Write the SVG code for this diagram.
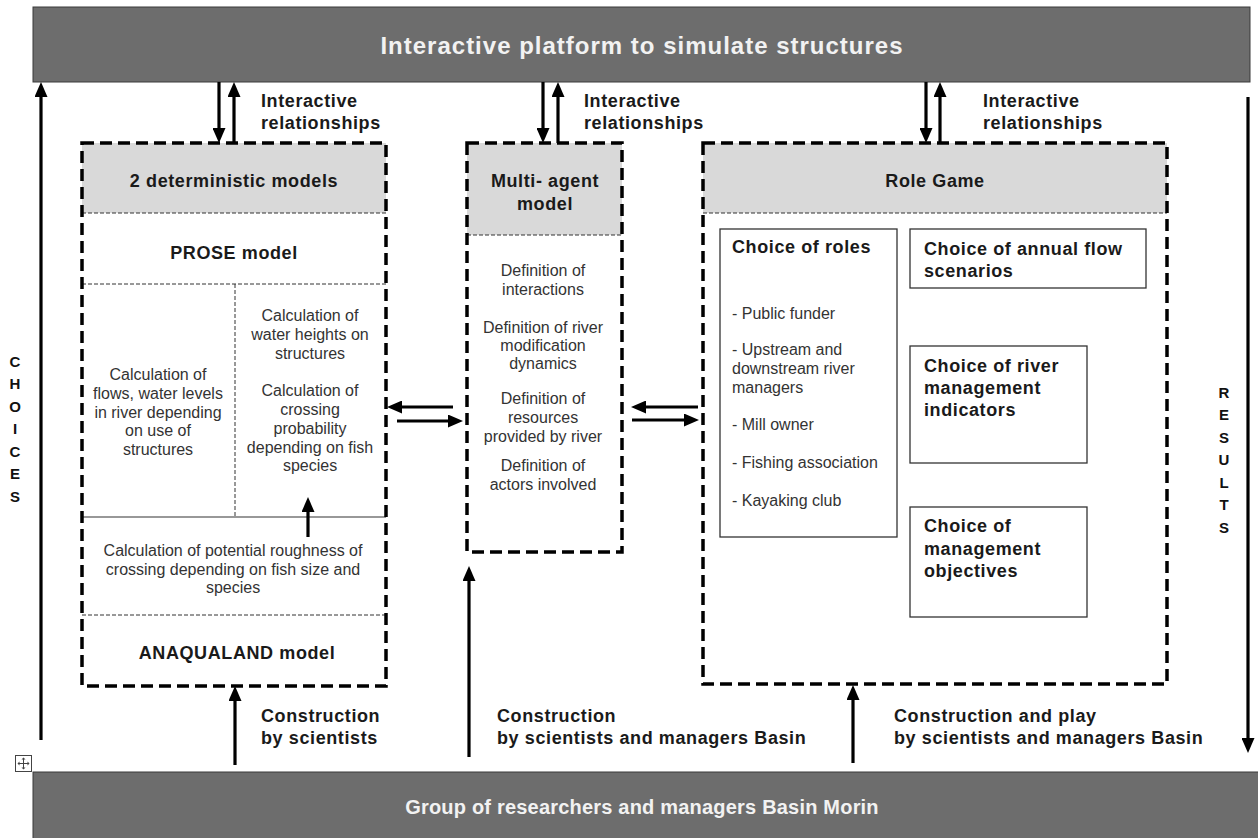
<svg xmlns="http://www.w3.org/2000/svg" width="1258" height="838" viewBox="0 0 1258 838">
<defs>
<style>
.bar{fill:#6d6d6d;stroke:#3a3a3a;stroke-width:1}
.bartxt{font-family:"Liberation Sans",Arial,sans-serif;font-weight:bold;fill:#f2f2f2;text-anchor:middle}
.dbox{fill:none;stroke:#000;stroke-width:3.5;stroke-dasharray:12 6}
.hdr{fill:#d9d9d9}
.thin{stroke:#333;stroke-width:1;stroke-dasharray:4 2;fill:none}
.solid{stroke:#333;stroke-width:1.2;fill:none}
.ibox{fill:#fff;stroke:#333;stroke-width:1.3}
.b{font-family:"Liberation Sans",Arial,sans-serif;font-weight:bold;font-size:18px;fill:#1a1a1a;letter-spacing:0.6px}
.r{font-family:"Liberation Sans",Arial,sans-serif;font-size:16px;fill:#333}
.c{text-anchor:middle}
.v{font-family:"Liberation Sans",Arial,sans-serif;font-weight:bold;font-size:15px;fill:#111;text-anchor:middle}
.arr{stroke:#000;stroke-width:3.2;fill:none;marker-end:url(#ah)}
</style>
<marker id="ah" markerUnits="userSpaceOnUse" markerWidth="15" markerHeight="13" refX="10" refY="6.5" orient="auto">
<path d="M0,0 L15,6.5 L0,13 z" fill="#000"/>
</marker>
</defs>
<rect width="1258" height="838" fill="#fff"/>

<g id="top-bar">
<rect class="bar" x="33" y="7" width="1217" height="75"/>
<text class="bartxt" x="642" y="54" font-size="24" letter-spacing="1">Interactive platform to simulate structures</text>
</g>

<g id="bottom-bar">
<rect class="bar" x="33" y="772" width="1230" height="70"/>
<text class="bartxt" x="642" y="814" font-size="20" letter-spacing="0.2">Group of researchers and managers Basin Morin</text>
</g>

<g id="choices">
<text class="v" x="15" y="367">C</text>
<text class="v" x="15" y="389">H</text>
<text class="v" x="15" y="412">O</text>
<text class="v" x="15" y="434">I</text>
<text class="v" x="15" y="457">C</text>
<text class="v" x="15" y="479">E</text>
<text class="v" x="15" y="502">S</text>
</g>

<g id="results">
<text class="v" x="1224" y="398">R</text>
<text class="v" x="1224" y="420">E</text>
<text class="v" x="1224" y="443">S</text>
<text class="v" x="1224" y="465">U</text>
<text class="v" x="1224" y="488">L</text>
<text class="v" x="1224" y="510">T</text>
<text class="v" x="1224" y="533">S</text>
</g>

<g id="deterministic-models">
<rect class="hdr" x="82" y="143" width="304" height="70"/>
<line class="thin" x1="82" y1="213" x2="386" y2="213"/>
<line class="thin" x1="82" y1="284" x2="386" y2="284"/>
<line class="thin" x1="235" y1="284" x2="235" y2="517" stroke-dasharray="3 2"/>
<line class="solid" x1="82" y1="517" x2="386" y2="517"/>
<line class="thin" x1="82" y1="615" x2="386" y2="615"/>
<rect class="dbox" x="82" y="143" width="304" height="543"/>
<text class="b c" x="234" y="186.5">2 deterministic models</text>
<text class="b c" x="234" y="258.5">PROSE model</text>
<text class="r c" x="158" y="380">Calculation of</text>
<text class="r c" x="158" y="399">flows, water levels</text>
<text class="r c" x="158" y="418">in river depending</text>
<text class="r c" x="158" y="436">on use of</text>
<text class="r c" x="158" y="455">structures</text>
<text class="r c" x="310" y="321">Calculation of</text>
<text class="r c" x="310" y="340">water heights on</text>
<text class="r c" x="310" y="359">structures</text>
<text class="r c" x="310" y="396">Calculation of</text>
<text class="r c" x="310" y="415">crossing</text>
<text class="r c" x="310" y="434">probability</text>
<text class="r c" x="310" y="453">depending on fish</text>
<text class="r c" x="310" y="471">species</text>
<text class="r c" x="233" y="556">Calculation of potential roughness of</text>
<text class="r c" x="233" y="575">crossing depending on fish size and</text>
<text class="r c" x="233" y="593">species</text>
<text class="b c" x="237" y="658.5">ANAQUALAND model</text>
</g>

<g id="multi-agent-model">
<rect class="hdr" x="467" y="143" width="155" height="92"/>
<line class="thin" x1="467" y1="235" x2="622" y2="235"/>
<rect class="dbox" x="467" y="143" width="155" height="409"/>
<text class="b c" x="545" y="186.5">Multi- agent</text>
<text class="b c" x="545" y="209.5">model</text>
<text class="r c" x="543" y="276">Definition of</text>
<text class="r c" x="543" y="295">interactions</text>
<text class="r c" x="543" y="333">Definition of river</text>
<text class="r c" x="543" y="351">modification</text>
<text class="r c" x="543" y="369">dynamics</text>
<text class="r c" x="543" y="404">Definition of</text>
<text class="r c" x="543" y="423">resources</text>
<text class="r c" x="543" y="442">provided by river</text>
<text class="r c" x="543" y="471">Definition of</text>
<text class="r c" x="543" y="490">actors involved</text>
</g>

<g id="role-game">
<rect class="hdr" x="703" y="143" width="464" height="70"/>
<line class="thin" x1="703" y1="213" x2="1167" y2="213"/>
<rect class="dbox" x="703" y="143" width="464" height="541"/>
<text class="b c" x="935" y="186.5">Role Game</text>
</g>

<g id="choice-of-roles">
<rect class="ibox" x="720" y="229" width="177" height="308"/>
<text class="b" x="732" y="253">Choice of roles</text>
<text class="r" x="732" y="319"> - Public funder</text>
<text class="r" x="732" y="355"> - Upstream and</text>
<text class="r" x="732" y="374">downstream river</text>
<text class="r" x="732" y="393">managers</text>
<text class="r" x="732" y="430">- Mill owner</text>
<text class="r" x="732" y="468">- Fishing association</text>
<text class="r" x="732" y="506">- Kayaking club</text>
</g>

<g id="choice-of-flow-scenarios">
<rect class="ibox" x="910" y="229" width="236" height="59"/>
<text class="b" x="924" y="254.5">Choice of annual flow</text>
<text class="b" x="924" y="276.5">scenarios</text>
</g>

<g id="choice-of-indicators">
<rect class="ibox" x="910" y="346" width="177" height="117"/>
<text class="b" x="924" y="371.5">Choice of river</text>
<text class="b" x="924" y="393.5">management</text>
<text class="b" x="924" y="416">indicators</text>
</g>

<g id="choice-of-objectives">
<rect class="ibox" x="910" y="507" width="177" height="110"/>
<text class="b" x="924" y="531.5">Choice of</text>
<text class="b" x="924" y="554.5">management</text>
<text class="b" x="924" y="576.5">objectives</text>
</g>

<g id="connectors">
<line class="arr" x1="219" y1="82" x2="219" y2="138"/>
<line class="arr" x1="234" y1="143" x2="234" y2="87"/>
<line class="arr" x1="543" y1="82" x2="543" y2="138"/>
<line class="arr" x1="558" y1="143" x2="558" y2="87"/>
<line class="arr" x1="926" y1="82" x2="926" y2="138"/>
<line class="arr" x1="940" y1="143" x2="940" y2="87"/>
<line class="arr" x1="41" y1="740" x2="41" y2="87"/>
<line class="arr" x1="1248" y1="97" x2="1248" y2="748"/>
<line class="arr" x1="453" y1="407" x2="392" y2="407"/>
<line class="arr" x1="397" y1="421" x2="458" y2="421"/>
<line class="arr" x1="698" y1="407" x2="636" y2="407"/>
<line class="arr" x1="632" y1="420" x2="694" y2="420"/>
<line class="arr" x1="308" y1="537" x2="308" y2="502"/>
<line class="arr" x1="235" y1="765" x2="235" y2="691"/>
<line class="arr" x1="469" y1="757" x2="469" y2="571"/>
<line class="arr" x1="853" y1="763" x2="853" y2="690"/>
</g>

<g id="labels">
<text class="b" x="261" y="106.5">Interactive</text>
<text class="b" x="261" y="128.5">relationships</text>
<text class="b" x="584" y="106.5">Interactive</text>
<text class="b" x="584" y="128.5">relationships</text>
<text class="b" x="983" y="106.5">Interactive</text>
<text class="b" x="983" y="128.5">relationships</text>
<text class="b" x="261" y="721.5">Construction</text>
<text class="b" x="261" y="743.5">by scientists</text>
<text class="b" x="497" y="721.5">Construction</text>
<text class="b" x="497" y="743.5">by scientists and managers Basin</text>
<text class="b" x="894" y="721.5">Construction and play</text>
<text class="b" x="894" y="743.5">by scientists and managers Basin</text>
</g>

<g id="move-handle">
<rect x="15.5" y="755.5" width="16" height="16" fill="#fff" stroke="#444" stroke-width="1"/>
<path d="M23.5,758.5 V768.5 M18.5,763.5 H28.5" stroke="#444" stroke-width="1" fill="none"/>
<path d="M23.5,757.5 l-2,2 h4 z M23.5,769.5 l-2,-2 h4 z M17.5,763.5 l2,-2 v4 z M29.5,763.5 l-2,-2 v4 z" fill="#444"/>
</g>
</svg>
